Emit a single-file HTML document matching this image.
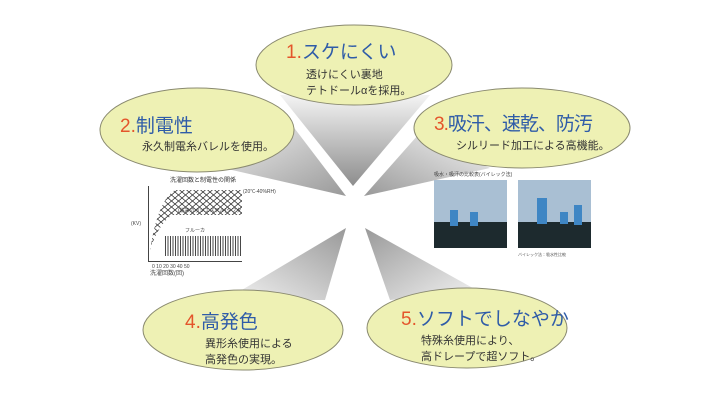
<!DOCTYPE html>
<html><head><meta charset="utf-8"><style>
body{margin:0;background:#fff;}
svg{display:block}
text{font-family:"Liberation Sans","Noto Sans CJK JP",sans-serif;}
.t{font-size:19px;fill:#2f5ca8;}
.n{fill:#e4552b;}
.b{font-size:11px;fill:#333;}
</style></head><body>
<svg width="712" height="401" viewBox="0 0 712 401" xmlns="http://www.w3.org/2000/svg">
<defs>
<linearGradient id="g1" x1="0" y1="0" x2="0" y2="1"><stop offset="0" stop-color="#f4f4f4"/><stop offset="1" stop-color="#8d8d8d"/></linearGradient>
<linearGradient id="g2" x1="0" y1="0" x2="1" y2="1"><stop offset="0" stop-color="#f4f4f4"/><stop offset="1" stop-color="#999"/></linearGradient>
<linearGradient id="g3" x1="1" y1="0" x2="0" y2="1"><stop offset="0" stop-color="#f4f4f4"/><stop offset="1" stop-color="#999"/></linearGradient>
<linearGradient id="g4" x1="0" y1="1" x2="1" y2="0"><stop offset="0" stop-color="#f4f4f4"/><stop offset="1" stop-color="#999"/></linearGradient>
<linearGradient id="g5" x1="1" y1="1" x2="0" y2="0"><stop offset="0" stop-color="#f4f4f4"/><stop offset="1" stop-color="#999"/></linearGradient>
<pattern id="hx" width="7" height="6" patternUnits="userSpaceOnUse"><path d="M0 0L7 6M7 0L0 6" stroke="#333" stroke-width="0.8"/></pattern>
<pattern id="vl" width="2.5" height="10" patternUnits="userSpaceOnUse"><path d="M0.5 0V10" stroke="#333" stroke-width="0.9"/></pattern>
</defs>
<polygon points="280,95 430,95 353,186" fill="url(#g1)"/>
<polygon points="210,165 292,125 346,196" fill="url(#g2)"/>
<polygon points="418,135 490,168 364,196" fill="url(#g3)"/>
<polygon points="225,300 325,300 346,228" fill="url(#g4)"/>
<polygon points="365,228 390,300 480,292" fill="url(#g5)"/>
<text x="170" y="182" font-size="6" fill="#333">洗濯回数と制電性の関係</text>
<rect x="148" y="186" width="1" height="76" fill="#444"/>
<rect x="148" y="261" width="94" height="1" fill="#444"/>
<path d="M150 250 Q158 200 175 190 L242 190 L242 215 L172 215 Q158 225 150 250Z" fill="url(#hx)"/>
<rect x="165" y="236" width="77" height="20" fill="url(#vl)"/>
<text x="243" y="193" font-size="5" fill="#444">(20℃-40%RH)</text>
<text x="178" y="212" font-size="5" fill="#444">(従来のポリエステル)タフタ</text>
<text x="185" y="232" font-size="5" fill="#444">フルーカ</text>
<text x="131" y="225" font-size="5" fill="#444">(KV)</text>
<text x="150" y="275" font-size="6" fill="#444">洗濯回数(回)</text>
<text x="152" y="268" font-size="5" fill="#444">0  10  20  30  40  50</text>
<text x="434" y="176" font-size="5" fill="#444">吸水・吸汗の比較表(バイレック法)</text>
<rect x="434" y="180" width="73" height="68" fill="#a9bfd3"/>
<rect x="434" y="222" width="73" height="26" fill="#1d2a2e"/>
<rect x="450" y="210" width="8" height="16" fill="#3f86c4"/>
<rect x="470" y="212" width="8" height="14" fill="#3f86c4"/>
<rect x="518" y="180" width="73" height="68" fill="#a9bfd3"/>
<rect x="518" y="222" width="73" height="26" fill="#1d2a2e"/>
<rect x="537" y="198" width="10" height="26" fill="#3f86c4"/>
<rect x="560" y="212" width="8" height="12" fill="#3f86c4"/>
<rect x="574" y="205" width="8" height="20" fill="#3f86c4"/>
<text x="518" y="256" font-size="4" fill="#555">バイレック法：吸水性比較</text>
<g fill="#eef1b4" stroke="#8a8a70" stroke-width="1">
<ellipse cx="354" cy="65" rx="98" ry="40"/>
<ellipse cx="197" cy="130" rx="97" ry="42"/>
<ellipse cx="522" cy="128" rx="108" ry="40"/>
<ellipse cx="243" cy="330" rx="100" ry="40"/>
<ellipse cx="467" cy="328" rx="100" ry="40"/>
</g>
<text x="286" y="58" class="t"><tspan class="n">1.</tspan>スケにくい</text>
<text x="306" y="78" class="b">透けにくい裏地</text>
<text x="306" y="94" class="b">テトドールαを採用。</text>
<text x="120" y="132" class="t"><tspan class="n">2.</tspan>制電性</text>
<text x="142" y="150" class="b">永久制電糸バレルを使用。</text>
<text x="434" y="130" class="t" letter-spacing="-1"><tspan class="n">3.</tspan>吸汗、速乾、防汚</text>
<text x="456" y="149" class="b">シルリード加工による高機能。</text>
<text x="185" y="328" class="t"><tspan class="n">4.</tspan>高発色</text>
<text x="205" y="347" class="b">異形糸使用による</text>
<text x="205" y="363" class="b">高発色の実現。</text>
<text x="401" y="325" class="t"><tspan class="n">5.</tspan>ソフトでしなやか</text>
<text x="421" y="344" class="b">特殊糸使用により、</text>
<text x="421" y="360" class="b">高ドレープで超ソフト。</text>
</svg>
</body></html>
